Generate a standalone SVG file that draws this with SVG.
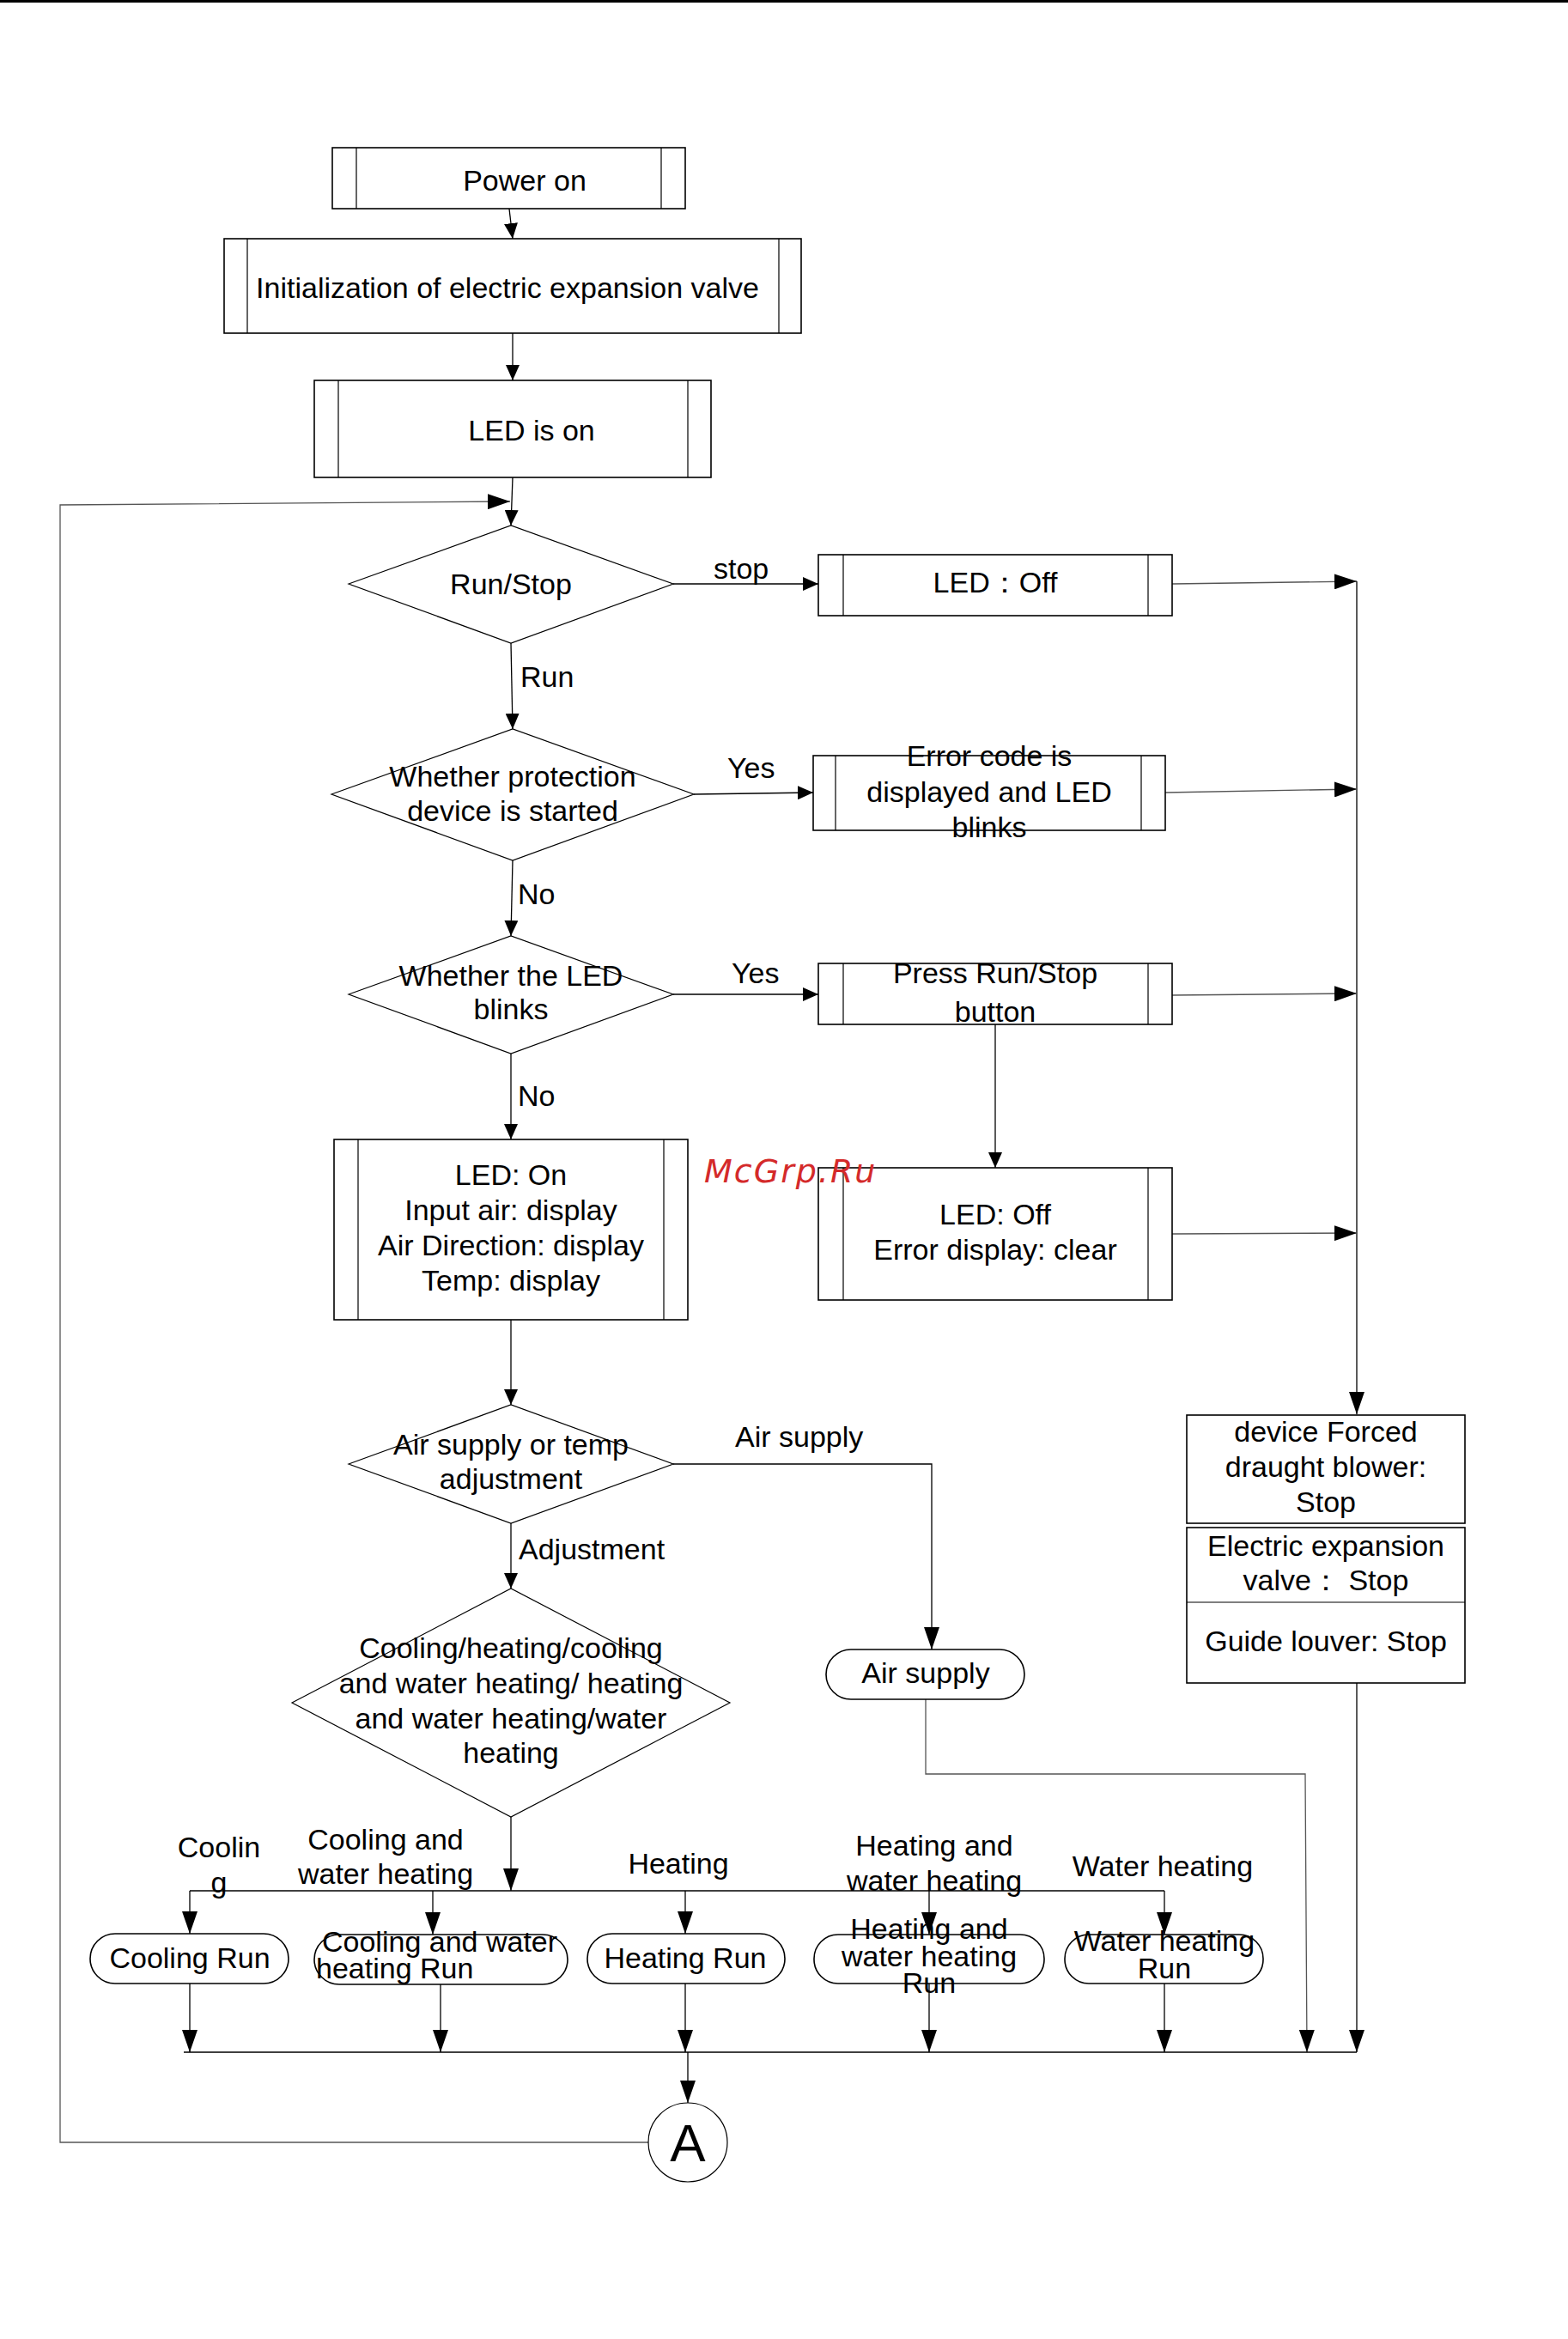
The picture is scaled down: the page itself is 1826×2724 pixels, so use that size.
<svg xmlns="http://www.w3.org/2000/svg" width="1826" height="2724" viewBox="0 0 1826 2724">
<style>
text{font-family:"Liberation Sans",Arial,sans-serif;font-size:34px;fill:#000}
.c{text-anchor:middle}
.box{fill:#fff;stroke:#000;stroke-width:1.6}
.in{stroke:#000;stroke-width:1.2;fill:none}
.ln{fill:none;stroke:#000;stroke-width:1.3}
.gl{fill:none;stroke:#555;stroke-width:1.3}
.dia{fill:#fff;stroke:#000;stroke-width:1.2}
.wm{font-family:"DejaVu Sans",sans-serif;font-style:italic;font-size:38px;fill:#d42a2a;letter-spacing:2px}
</style>
<defs>
<marker id="as" markerUnits="userSpaceOnUse" markerWidth="18" markerHeight="16" refX="18" refY="8" orient="auto"><path d="M0,0 L18,8 L0,16 z" fill="#000"/></marker>
<marker id="al" markerUnits="userSpaceOnUse" markerWidth="26" markerHeight="18" refX="26" refY="9" orient="auto"><path d="M0,0 L26,9 L0,18 z" fill="#000"/></marker>
</defs>
<rect x="0" y="0" width="1826" height="3" fill="#000"/>

<g id="connectors">
<path class="ln" d="M593,243 L597,278" marker-end="url(#as)"/>
<path class="ln" d="M597,388 L597,443" marker-end="url(#as)"/>
<path class="ln" d="M597,556 L595,612" marker-end="url(#as)"/>
<path class="gl" d="M755,2495 L70,2495 L70,588 L594,584" marker-end="url(#al)"/>
<path class="ln" d="M784,680 L953,680" marker-end="url(#as)"/>
<path class="gl" d="M1365,680 L1580,677" marker-end="url(#al)"/>
<path class="ln" d="M1580,677 L1580,1647" marker-end="url(#al)"/>
<path class="ln" d="M595,749 L597,849" marker-end="url(#as)"/>
<path class="ln" d="M808,925 L947,923" marker-end="url(#as)"/>
<path class="gl" d="M1357,923 L1580,919" marker-end="url(#al)"/>
<path class="ln" d="M597,1002 L595,1090" marker-end="url(#as)"/>
<path class="ln" d="M784,1158 L953,1158" marker-end="url(#as)"/>
<path class="gl" d="M1365,1159 L1580,1157" marker-end="url(#al)"/>
<path class="ln" d="M1159,1193 L1159,1360" marker-end="url(#as)"/>
<path class="gl" d="M1365,1437 L1580,1436" marker-end="url(#al)"/>
<path class="ln" d="M595,1227 L595,1327" marker-end="url(#as)"/>
<path class="ln" d="M595,1537 L595,1636" marker-end="url(#as)"/>
<path class="ln" d="M784,1705 L1085,1705 L1085,1921" marker-end="url(#al)"/>
<path class="ln" d="M595,1774 L595,1850" marker-end="url(#as)"/>
<path class="gl" d="M1078,1979 L1078,2066 L1520,2066 L1522,2390" marker-end="url(#al)"/>
<path class="ln" d="M1580,1960 L1580,2390" marker-end="url(#al)"/>
<path class="ln" d="M595,2116 L595,2202" marker-end="url(#al)"/>
<path class="ln" d="M221,2202 L1356,2202"/>
<path class="ln" d="M221,2202 L221,2252" marker-end="url(#al)"/>
<path class="ln" d="M504,2202 L504,2253" marker-end="url(#al)"/>
<path class="ln" d="M798,2202 L798,2252" marker-end="url(#al)"/>
<path class="ln" d="M1082,2202 L1082,2253" marker-end="url(#al)"/>
<path class="ln" d="M1356,2202 L1356,2253" marker-end="url(#al)"/>
<path class="ln" d="M221,2310 L221,2390" marker-end="url(#al)"/>
<path class="ln" d="M513,2311 L513,2390" marker-end="url(#al)"/>
<path class="ln" d="M798,2310 L798,2390" marker-end="url(#al)"/>
<path class="ln" d="M1082,2310 L1082,2390" marker-end="url(#al)"/>
<path class="ln" d="M1356,2310 L1356,2390" marker-end="url(#al)"/>
<path class="ln" d="M214,2390 L1580,2390"/>
<path class="ln" d="M801,2390 L801,2449" marker-end="url(#al)"/>
<text x="831" y="674">stop</text>
<text x="606" y="800">Run</text>
<text x="847" y="906">Yes</text>
<text x="603" y="1053">No</text>
<text x="852" y="1145">Yes</text>
<text x="603" y="1288">No</text>
<text x="856" y="1685">Air supply</text>
<text x="604" y="1816">Adjustment</text>
<text class="c" x="255" y="2163">Coolin</text>
<text class="c" x="255" y="2204">g</text>
<text class="c" x="449" y="2154">Cooling and</text>
<text class="c" x="449" y="2194">water heating</text>
<text class="c" x="790" y="2182">Heating</text>
<text class="c" x="1088" y="2161">Heating and</text>
<text class="c" x="1088" y="2202">water heating</text>
<text class="c" x="1354" y="2185">Water heating</text>
</g>

<g id="power-on">
<rect class="box" x="387" y="172" width="411" height="71"/>
<path class="in" d="M415,172 V243 M770,172 V243"/>
<text class="c" x="611" y="222">Power on</text>
</g>
<g id="init-eev">
<rect class="box" x="261" y="278" width="672" height="110"/>
<path class="in" d="M288,278 V388 M907,278 V388"/>
<text class="c" x="591" y="347">Initialization of electric expansion valve</text>
</g>
<g id="led-is-on">
<rect class="box" x="366" y="443" width="462" height="113"/>
<path class="in" d="M394,443 V556 M801,443 V556"/>
<text class="c" x="619" y="513">LED is on</text>
</g>
<g id="run-stop">
<polygon class="dia" points="406,680 595,612 784,680 595,749"/>
<text class="c" x="595" y="692">Run/Stop</text>
</g>
<g id="led-off">
<rect class="box" x="953" y="646" width="412" height="71"/>
<path class="in" d="M982,646 V717 M1337,646 V717"/>
<text class="c" x="1159" y="690">LED：Off</text>
</g>
<g id="protection">
<polygon class="dia" points="386,925 597,849 808,925 597,1002"/>
<text class="c" x="597" y="916">Whether protection</text>
<text class="c" x="597" y="956">device is started</text>
</g>
<g id="error-code">
<rect class="box" x="947" y="880" width="410" height="87"/>
<path class="in" d="M973,880 V967 M1329,880 V967"/>
<text class="c" x="1152" y="892">Error code is</text>
<text class="c" x="1152" y="934">displayed and LED</text>
<text class="c" x="1152" y="975">blinks</text>
</g>
<g id="led-blinks">
<polygon class="dia" points="406,1158 595,1090 784,1158 595,1227"/>
<text class="c" x="595" y="1148">Whether the LED</text>
<text class="c" x="595" y="1187">blinks</text>
</g>
<g id="press-run-stop">
<rect class="box" x="953" y="1122" width="412" height="71"/>
<path class="in" d="M982,1122 V1193 M1337,1122 V1193"/>
<text class="c" x="1159" y="1145">Press Run/Stop</text>
<text class="c" x="1159" y="1190">button</text>
</g>
<g id="led-on-display">
<rect class="box" x="389" y="1327" width="412" height="210"/>
<path class="in" d="M417,1327 V1537 M773,1327 V1537"/>
<text class="c" x="595" y="1380">LED: On</text>
<text class="c" x="595" y="1421">Input air: display</text>
<text class="c" x="595" y="1462">Air Direction: display</text>
<text class="c" x="595" y="1503">Temp: display</text>
</g>
<g id="led-off-clear">
<rect class="box" x="953" y="1360" width="412" height="154"/>
<path class="in" d="M982,1360 V1514 M1337,1360 V1514"/>
<text class="c" x="1159" y="1426">LED: Off</text>
<text class="c" x="1159" y="1467">Error display: clear</text>
</g>
<g id="air-temp">
<polygon class="dia" points="406,1705 595,1636 784,1705 595,1774"/>
<text class="c" x="595" y="1694">Air supply or temp</text>
<text class="c" x="595" y="1734">adjustment</text>
</g>
<g id="mode-select">
<polygon class="dia" points="340,1983 595,1850 850,1983 595,2116"/>
<text class="c" x="595" y="1931">Cooling/heating/cooling</text>
<text class="c" x="595" y="1972">and water heating/ heating</text>
<text class="c" x="595" y="2013">and water heating/water</text>
<text class="c" x="595" y="2053">heating</text>
</g>
<g id="air-supply">
<rect class="box" x="962" y="1921" width="231" height="58" rx="29" stroke-width="1.2"/>
<text class="c" x="1078" y="1960">Air supply</text>
</g>
<g id="device-stop">
<rect class="box" x="1382" y="1648" width="324" height="126" stroke-width="1.3"/>
<text class="c" x="1544" y="1679">device Forced</text>
<text class="c" x="1544" y="1720">draught blower:</text>
<text class="c" x="1544" y="1761">Stop</text>
</g>
<g id="valve-louver-stop">
<rect class="box" x="1382" y="1779" width="324" height="181" stroke-width="1.3"/>
<path class="in" d="M1382,1866 H1706"/>
<text class="c" x="1544" y="1812">Electric expansion</text>
<text class="c" x="1544" y="1852">valve： Stop</text>
<text class="c" x="1544" y="1923">Guide louver: Stop</text>
</g>
<g id="cooling-run">
<rect class="box" x="105" y="2252" width="231" height="58" rx="29" stroke-width="1.2"/>
<text class="c" x="221" y="2292">Cooling Run</text>
</g>
<g id="cooling-water-run">
<rect class="box" x="366" y="2253" width="295" height="58" rx="29" stroke-width="1.2"/>
<text x="375" y="2273">Cooling and water</text>
<text x="368" y="2304">heating Run</text>
</g>
<g id="heating-run">
<rect class="box" x="684" y="2252" width="230" height="58" rx="29" stroke-width="1.2"/>
<text class="c" x="798" y="2292">Heating Run</text>
</g>
<g id="heating-water-run">
<rect class="box" x="948" y="2253" width="268" height="57" rx="28" stroke-width="1.2"/>
<text class="c" x="1082" y="2258">Heating and</text>
<text class="c" x="1082" y="2290">water heating</text>
<text class="c" x="1082" y="2321">Run</text>
</g>
<g id="water-run">
<rect class="box" x="1240" y="2253" width="231" height="57" rx="28" stroke-width="1.2"/>
<text class="c" x="1356" y="2272">Water heating</text>
<text class="c" x="1356" y="2304">Run</text>
</g>
<g id="connector-a">
<circle cx="801" cy="2495" r="46" fill="#fff" stroke="#000" stroke-width="1.2"/>
<text class="c" x="801" y="2517" style="font-size:62px">A</text>
</g>
<text class="wm" x="820" y="1377">McGrp.Ru</text>
</svg>
